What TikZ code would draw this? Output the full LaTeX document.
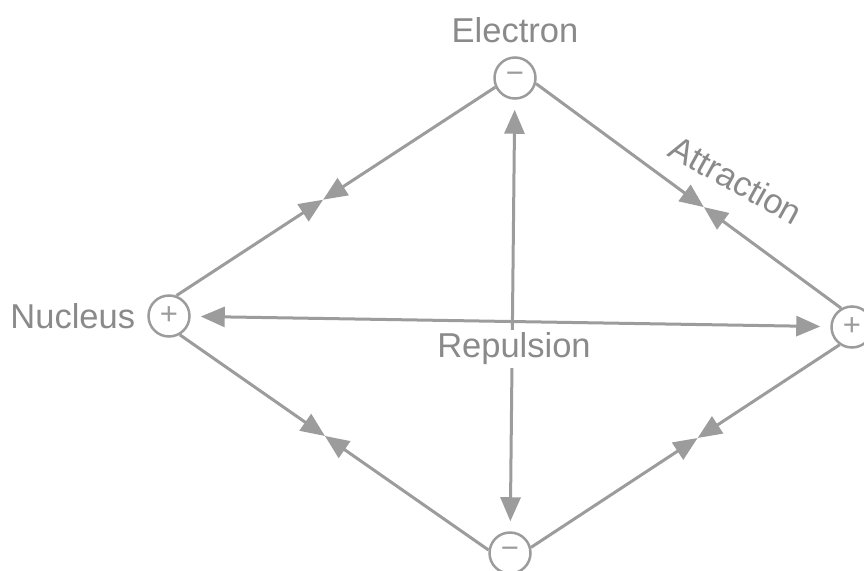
\documentclass[tikz,border=0pt]{standalone}
\usepackage{fontspec}
\setmainfont{Liberation Sans}
\usetikzlibrary{arrows.meta,positioning,calc}
\definecolor{LineGray}{HTML}{9C9C9C}
\definecolor{TextGray}{HTML}{8A8A8A}
\tikzset{
  PC/.style={circle,draw=LineGray,line width=2.5pt,
             minimum size=41pt,inner sep=0pt,text=LineGray,
             font=\fontsize{31}{31}\selectfont},
  LB/.style={inner sep=0pt,text=TextGray,
             font=\fontsize{34.5}{38}\selectfont},
  att/.style={-{Triangle[length=24pt,width=20pt]},LineGray,line width=3pt},
  rep/.style={{Triangle[length=24pt,width=20pt]}-{Triangle[length=24pt,width=20pt]},
              LineGray,line width=3pt,shorten <=10pt,shorten >=10pt}
}

\begin{document}
\begin{tikzpicture}[x=1pt,y=-1pt]
  \clip (0,0) rectangle (864,570);
  \fill[white] (0,0) rectangle (864,570);

  \node[PC] (nuc) at (169,316) {+};
  \node[PC] (nucR) at (852,327) {+};
  \node[PC] (ele) at (515,78) {−};
  \node[PC] (eleB) at (510,553) {−};

  \node[LB,above=13pt of ele] (eleLbl) {Electron};
  \node[LB,left=12pt of nuc] (nucLbl) {Nucleus};

  % attraction: two tips meeting on each side
  \coordinate (mTL) at ($(nuc.70)!.46!(ele.205)$);
  \coordinate (mTR) at ($(ele.345)!.55!(nucR.120)$);
  \coordinate (mBL) at ($(nuc.300)!.47!(eleB.172)$);
  \coordinate (mBR) at ($(eleB.15)!.54!(nucR.235)$);
  \draw[att](nuc.70)--(mTL);
  \draw[att](ele.205)--(mTL);
  \draw[att](ele.345)--(mTR);
  \draw[att](nucR.120)--(mTR);
  \draw[att](nuc.300)--(mBL);
  \draw[att](eleB.172)--(mBL);
  \draw[att](eleB.15)--(mBR);
  \draw[att](nucR.235)--(mBR);

  % repulsion
  \draw[rep](nuc)--(nucR);
  \draw[rep](ele)--(eleB);

  \node[LB,fill=white,inner sep=3pt] (repLbl) at (514,349) {Repulsion};
  \node[LB,rotate=-29] (attLbl) at (736,180) {Attraction};
\end{tikzpicture}
\end{document}
